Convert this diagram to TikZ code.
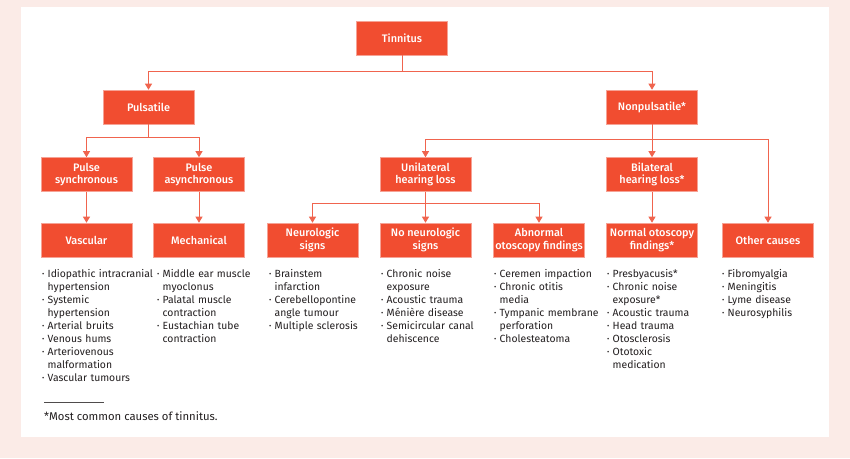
\documentclass[tikz,border=0pt]{standalone}
\usepackage{fontspec}
\setmainfont{Fira Sans}
\newfontfamily\boxfont{Fira Sans Medium}
\usetikzlibrary{arrows.meta}
\definecolor{tinred}{RGB}{241,77,48}
\definecolor{tinline}{RGB}{240,100,78}
\definecolor{tinpink}{RGB}{251,235,231}
\definecolor{tintext}{RGB}{35,31,32}
\newcommand{\itm}[1]{\hangindent=5.5pt\hangafter=1\noindent\makebox[5.5pt][l]{\raisebox{1.2pt}{\scriptsize\textbullet}}#1\par}
\begin{document}
\begin{tikzpicture}[x=1pt, y=-1pt,
		box/.style={fill=tinred, draw=tinline!60!white, line width=0.6pt, text=white, minimum width=91pt, minimum height=34pt, align=center, inner sep=1pt, font=\boxfont\fontsize{10.9}{12.6}\selectfont},
		link/.style={draw=tinline, line width=0.9pt, -{Triangle[width=7pt,length=6pt]}},
		list/.style={anchor=north west, inner sep=0pt, text width=125pt, align=left, text=tintext, font=\fontsize{10.4}{13}\selectfont}]
		\fill[tinpink] (0,0) rectangle (850,458);
		\fill[white] (21,7) rectangle (829,437);
		% boxes
		\node[box] (tin) at (402,38) {Tinnitus};
		\node[box] (puls) at (148.5,107) {Pulsatile};
		\node[box] (nonp) at (652,107) {Nonpulsatile*};
		\node[box] (psync) at (86.5,174.5) {Pulse\\synchronous};
		\node[box] (pasync) at (199,174.5) {Pulse\\asynchronous};
		\node[box] (unil) at (425.5,174.5) {Unilateral\\hearing loss};
		\node[box] (bil) at (652,174.5) {Bilateral\\hearing loss*};
		\node[box] (vasc) at (86.5,240) {Vascular};
		\node[box] (mech) at (199,240) {Mechanical};
		\node[box] (neuro) at (312.5,240) {Neurologic\\signs};
		\node[box] (noneuro) at (425.5,240) {No neurologic\\signs};
		\node[box] (abn) at (539,240) {Abnormal\\otoscopy findings};
		\node[box] (normal) at (652,240) {Normal otoscopy\\findings*};
		\node[box] (other) at (768,240) {Other causes};
		% links
		\draw[link] (tin.south) -- ++(0,16) -| (puls.north);
		\draw[link] (tin.south) -- ++(0,16) -| (nonp.north);
		\draw[link] (puls.south) -- ++(0,13) -| (psync.north);
		\draw[link] (puls.south) -- ++(0,13) -| (pasync.north);
		\draw[link] (nonp.south) -- ++(0,15) -| (unil.north);
		\draw[link] (nonp.south) -- (bil.north);
		\draw[link] (nonp.south) -- ++(0,15) -| (other.north);
		\draw[link] (psync) -- (vasc);
		\draw[link] (pasync) -- (mech);
		\draw[link] (bil) -- (normal);
		\draw[link] (unil.south) -- ++(0,12) -| (neuro.north);
		\draw[link] (unil.south) -- (noneuro.north);
		\draw[link] (unil.south) -- ++(0,12) -| (abn.north);
		% lists
		\node[list] (lvasc) at (42,269) {\itm{Idiopathic intracranial\newline hypertension}\itm{Systemic\newline hypertension}\itm{Arterial bruits}\itm{Venous hums}\itm{Arteriovenous\newline malformation}\itm{Vascular tumours}};
		\node[list] (lmech) at (157,269) {\itm{Middle ear muscle\newline myoclonus}\itm{Palatal muscle\newline contraction}\itm{Eustachian tube\newline contraction}};
		\node[list] (lneuro) at (269,269) {\itm{Brainstem\newline infarction}\itm{Cerebellopontine\newline angle tumour}\itm{Multiple sclerosis}};
		\node[list] (lnoneuro) at (381,269) {\itm{Chronic noise\newline exposure}\itm{Acoustic trauma}\itm{Ménière disease}\itm{Semicircular canal\newline dehiscence}};
		\node[list] (labn) at (494,269) {\itm{Ceremen impaction}\itm{Chronic otitis\newline media}\itm{Tympanic membrane\newline perforation}\itm{Cholesteatoma}};
		\node[list] (lnormal) at (607,269) {\itm{Presbyacusis*}\itm{Chronic noise\newline exposure*}\itm{Acoustic trauma}\itm{Head trauma}\itm{Otosclerosis}\itm{Ototoxic\newline medication}};
		\node[list] (lother) at (722,269) {\itm{Fibromyalgia}\itm{Meningitis}\itm{Lyme disease}\itm{Neurosyphilis}};
		% footnote
		\draw[tintext!80, line width=0.5pt] (44,402) -- (104,402);
		\node[anchor=west, inner sep=0pt, text=tintext, font=\fontsize{11.3}{13}\selectfont] (fnote) at (44,416) {*Most common causes of tinnitus.};
	\end{tikzpicture}
\end{document}
